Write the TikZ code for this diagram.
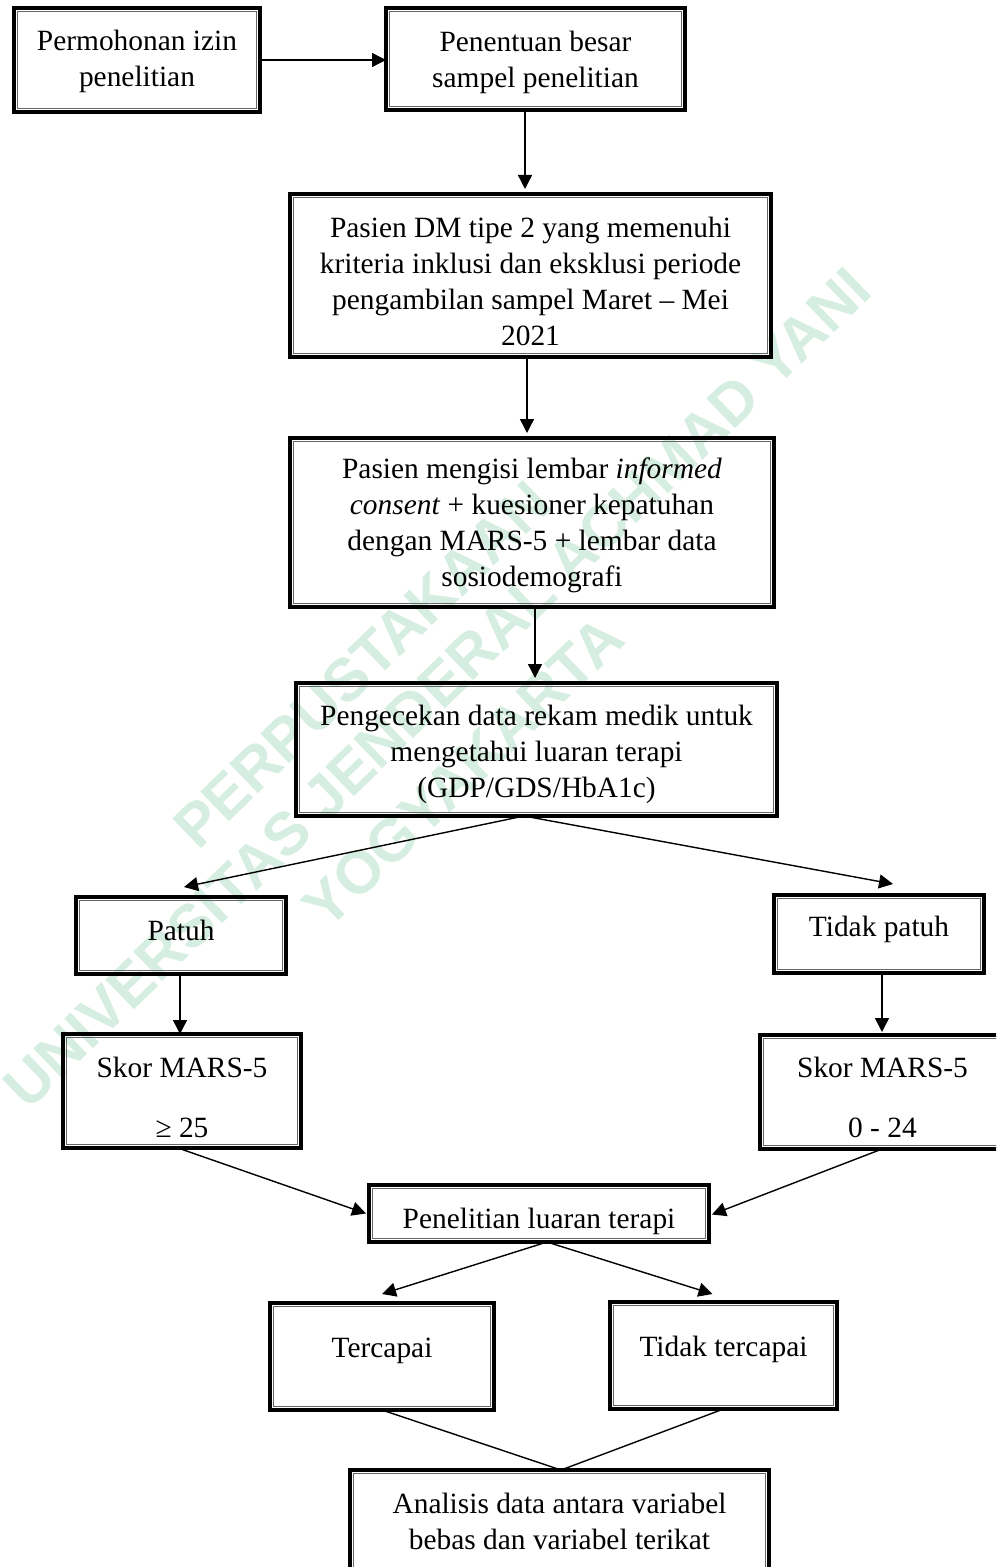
\documentclass[tikz,border=0pt]{standalone}
\usepackage{fontspec}
\setmainfont{Liberation Serif}
\newfontfamily\wmfont{Liberation Sans}
\usetikzlibrary{arrows.meta}
\definecolor{wm}{RGB}{214,238,225}
% [options]{name}{x1}{y1}{x2}{y2}{text}
\newcommand\mybox[7][]{\node[dbox,#1,minimum width={(#5-#3)*0.5pt},minimum height={(#6-#4)*0.5pt}] (#2) at ({(#3+#5)/2},{(#4+#6)/2}) {#7};}
\newcommand\mystrut[1]{\rule{0pt}{#1}}
\begin{document}
\begin{tikzpicture}[x=0.5pt,y=-0.5pt,
  dbox/.style={draw, line width=1.6pt, inner sep=0pt, outer sep=0pt, align=center,
    font=\fontsize{14.7pt}{18pt}\selectfont},
  innerline/.style={draw=black!60, line width=0.6pt},
  arr/.style={-{Triangle[length=7pt,width=7pt]}, line width=0.7pt},
  link/.style={line width=0.7pt},
  wmtext/.style={text=wm, font=\wmfont\bfseries\fontsize{30pt}{30pt}\selectfont, rotate=44, inner sep=0pt}]
\useasboundingbox (0,0) rectangle (996,1567);
\clip (0,0) rectangle (996,1567);
\fill[white] (0,0) rectangle (996,1567);

% watermark
\node[wmtext] (wm1) at (362,665) {PERPUSTAKAAN};
\node[wmtext] (wm2) at (437,688) {UNIVERSITAS JENDERAL ACHMAD YANI};
\node[wmtext] (wm3) at (463,772) {YOGYAKARTA};

% boxes
\mybox[text depth=1.2pt]{b1}{14}{8}{260}{112}{Permohonan izin\\penelitian}
\mybox[text depth=-0.3pt]{b2}{386}{8}{685}{110}{Penentuan besar\\sampel penelitian}
\mybox{b3}{290}{194}{771}{357}{\mystrut{16.5pt}Pasien DM tipe 2 yang memenuhi\\kriteria inklusi dan eksklusi periode\\pengambilan sampel Maret -- Mei\\2021}
\mybox[text depth=-0.8pt]{b4}{290}{438}{774}{607}{Pasien mengisi lembar \textit{informed}\\\textit{consent} + kuesioner kepatuhan\\dengan MARS-5 + lembar data\\sosiodemografi}
\mybox[text depth=-1.4pt]{b5}{296}{683}{777}{816}{\mystrut{12pt}Pengecekan data rekam medik untuk\\mengetahui luaran terapi\\(GDP/GDS/HbA1c)}
\mybox[text depth=5pt]{patuh}{76}{897}{286}{974}{Patuh}
\mybox[text depth=8pt]{tpatuh}{774}{895}{984}{973}{Tidak patuh}
\mybox{skorL}{63}{1034}{301}{1148}{\mystrut{16.5pt}Skor MARS-5\\[12pt]≥ 25}
\mybox{skorR}{760}{1035}{1005}{1149}{\mystrut{15.5pt}Skor MARS-5\\[12pt]0 - 24}
\mybox[text depth=0pt]{pen}{369}{1185}{709}{1242}{\mystrut{14.5pt}Penelitian luaran terapi}
\mybox[text depth=9pt]{terc}{270}{1303}{494}{1410}{Tercapai}
\mybox[text depth=9pt]{tterc}{610}{1302}{837}{1409}{Tidak tercapai}
\mybox{anal}{350}{1470}{769}{1572}{Analisis data antara variabel\\bebas dan variabel terikat}

\foreach \n in {b1,b2,b3,b4,b5,patuh,tpatuh,skorL,skorR,pen,terc,tterc,anal}
  \draw[innerline] ([shift={(1.6pt,-1.6pt)}]\n.north west) rectangle ([shift={(-1.6pt,1.6pt)}]\n.south east);

% connectors
\draw[arr] (b1.east) -- (b1.east -| b2.west);
\draw[arr, shorten >=2.5pt] (b2.south -| 525,0) -- (b3.north -| 525,0);
\draw[arr, shorten >=2.5pt] (b3.south -| 527,0) -- (b4.north -| 527,0);
\draw[arr, shorten >=2.5pt] (b4.south -| 535,0) -- (b5.north -| 535,0);
\draw[arr] (b5.south -| 524,0) -- ([shift={(3,-10)}]patuh.north);
\draw[arr] (b5.south -| 524,0) -- ([shift={(14,-11)}]tpatuh.north);
\draw[arr] (patuh.south -| 180,0) -- (skorL.north -| 180,0);
\draw[arr, shorten >=1.5pt] (tpatuh.south -| 882,0) -- (skorR.north -| 882,0);
\draw[arr] (skorL.south -| 178,0) -- ([shift={(-3,0)}]pen.west);
\draw[arr] (skorR.south -| 882,0) -- ([shift={(3,1)}]pen.east);
\draw[arr] (pen.south -| 547,0) -- ([shift={(0,-9)}]terc.north);
\draw[arr] (pen.south -| 547,0) -- ([shift={(-11,-8)}]tterc.north);
\draw[link] (terc.south) -- (anal.north -| 561,0);
\draw[link] (tterc.south) -- (anal.north -| 561,0);
\end{tikzpicture}
\end{document}
